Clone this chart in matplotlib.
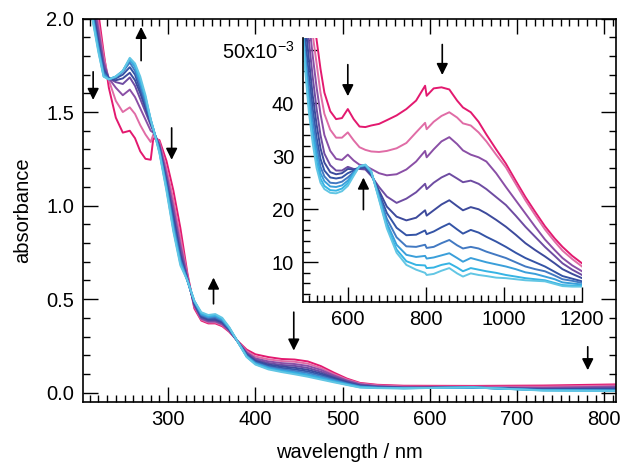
import numpy as np
import matplotlib.pyplot as plt
from matplotlib.ticker import MultipleLocator

plt.rcParams['font.family'] = ['Liberation Sans', 'DejaVu Sans']
plt.rcParams['mathtext.default'] = 'regular'

# colours of the 10 spectra, first (pink) to last (cyan)
colors = ['#e3196f', '#e06ca6', '#8a4fa6', '#6e4ca2', '#3d4a9c',
          '#3454a6', '#4279c2', '#3a9fda', '#36b4e4', '#62c6e4']

# main panel: wavelength (nm) and absorbance rows (one value per spectrum)
wl_main = [205, 213, 220, 226, 232, 240, 248, 256, 262, 268, 274, 280, 283,
           290, 298, 306, 314, 322, 330, 338, 346, 354, 362, 370, 380, 390,
           400, 415, 430, 445, 460, 475, 490, 505, 520, 540, 570, 650, 730, 813]
abs_rows = [
    [2.60, 2.50, 2.45, 2.42, 2.40, 2.38, 2.37, 2.36, 2.35, 2.34],
    [2.25, 2.19, 2.14, 2.10, 2.07, 2.05, 2.03, 2.02, 2.01, 2.00],
    [2.03, 1.98, 1.94, 1.91, 1.88, 1.86, 1.85, 1.84, 1.83, 1.82],
    [1.82, 1.80, 1.77, 1.75, 1.73, 1.72, 1.71, 1.70, 1.69, 1.69],
    [1.63, 1.67, 1.68, 1.68, 1.68, 1.68, 1.675, 1.675, 1.675, 1.675],
    [1.47, 1.56, 1.63, 1.66, 1.67, 1.68, 1.685, 1.69, 1.69, 1.69],
    [1.39, 1.50, 1.59, 1.65, 1.68, 1.70, 1.715, 1.72, 1.72, 1.72],
    [1.40, 1.525, 1.62, 1.685, 1.71, 1.74, 1.765, 1.78, 1.785, 1.79],
    [1.36, 1.49, 1.58, 1.64, 1.67, 1.70, 1.72, 1.74, 1.75, 1.76],
    [1.29, 1.43, 1.52, 1.57, 1.60, 1.62, 1.64, 1.66, 1.67, 1.69],
    [1.25, 1.38, 1.46, 1.50, 1.52, 1.54, 1.55, 1.57, 1.58, 1.59],
    [1.245, 1.34, 1.40, 1.43, 1.44, 1.45, 1.45, 1.46, 1.46, 1.46],
    [1.36, 1.38, 1.39, 1.40, 1.40, 1.405, 1.41, 1.41, 1.41, 1.41],
    [1.35, 1.34, 1.33, 1.32, 1.31, 1.30, 1.30, 1.29, 1.285, 1.28],
    [1.24, 1.20, 1.17, 1.15, 1.13, 1.12, 1.11, 1.10, 1.09, 1.08],
    [1.08, 1.03, 0.99, 0.96, 0.94, 0.92, 0.90, 0.88, 0.87, 0.86],
    [0.88, 0.83, 0.79, 0.76, 0.74, 0.72, 0.71, 0.70, 0.69, 0.68],
    [0.64, 0.63, 0.62, 0.61, 0.605, 0.60, 0.60, 0.60, 0.60, 0.60],
    [0.45, 0.46, 0.465, 0.47, 0.475, 0.48, 0.485, 0.49, 0.49, 0.49],
    [0.385, 0.39, 0.395, 0.40, 0.405, 0.41, 0.415, 0.42, 0.425, 0.43],
    [0.37, 0.375, 0.38, 0.385, 0.39, 0.395, 0.40, 0.405, 0.41, 0.415],
    [0.37, 0.375, 0.38, 0.385, 0.39, 0.397, 0.403, 0.41, 0.415, 0.42],
    [0.355, 0.36, 0.365, 0.37, 0.375, 0.38, 0.385, 0.39, 0.395, 0.40],
    [0.325, 0.328, 0.331, 0.334, 0.337, 0.34, 0.343, 0.346, 0.348, 0.35],
    [0.275, 0.274, 0.273, 0.272, 0.271, 0.27, 0.27, 0.27, 0.27, 0.27],
    [0.23, 0.222, 0.215, 0.21, 0.205, 0.20, 0.197, 0.194, 0.192, 0.19],
    [0.205, 0.193, 0.183, 0.176, 0.17, 0.165, 0.16, 0.157, 0.153, 0.15],
    [0.19, 0.178, 0.167, 0.158, 0.15, 0.143, 0.137, 0.133, 0.128, 0.124],
    [0.18, 0.169, 0.158, 0.148, 0.14, 0.132, 0.125, 0.119, 0.114, 0.11],
    [0.177, 0.165, 0.153, 0.143, 0.133, 0.124, 0.116, 0.109, 0.103, 0.098],
    [0.167, 0.155, 0.143, 0.132, 0.122, 0.113, 0.105, 0.097, 0.091, 0.085],
    [0.142, 0.132, 0.122, 0.112, 0.103, 0.095, 0.088, 0.081, 0.075, 0.07],
    [0.107, 0.099, 0.092, 0.085, 0.079, 0.073, 0.068, 0.063, 0.059, 0.055],
    [0.075, 0.070, 0.065, 0.060, 0.056, 0.052, 0.049, 0.046, 0.043, 0.041],
    [0.052, 0.049, 0.045, 0.041, 0.038, 0.035, 0.033, 0.031, 0.029, 0.027],
    [0.042, 0.039, 0.035, 0.032, 0.030, 0.028, 0.027, 0.026, 0.025, 0.024],
    [0.037, 0.033, 0.029, 0.027, 0.026, 0.025, 0.024, 0.024, 0.023, 0.023],
    [0.036, 0.032, 0.028, 0.027, 0.027, 0.027, 0.027, 0.027, 0.028, 0.028],
    [0.038, 0.032, 0.026, 0.021, 0.018, 0.015, 0.014, 0.013, 0.012, 0.011],
    [0.044, 0.038, 0.032, 0.026, 0.021, 0.017, 0.013, 0.011, 0.010, 0.009],
]

# inset: wavelength (nm) and absorbance in units of 1e-3, one list per spectrum
wl_ins = [480, 490, 500, 510, 520, 530, 540, 555, 570, 585, 600, 615, 630, 645,
          660, 680, 700, 725, 750, 775, 798, 802, 820, 840, 860, 880, 895, 915,
          935, 955, 980, 1005, 1030, 1055, 1080, 1105, 1130, 1150, 1175, 1200]
ins_spectra = [
    [80, 72, 64, 57, 52, 46.5, 42, 38.5, 37, 37.2, 38.9, 37.0, 35.6, 35.5, 35.8, 36.1, 36.8, 37.7, 38.9, 40.5,
     43.3, 41.4, 42.8, 43.0, 42.6, 40.5, 39.2, 38.3, 36.5, 34.1, 31.3, 28.6, 25.4, 22.3, 19.5, 16.8, 14.5, 12.9, 11.2, 9.8],
    [76, 68, 60, 53, 47.5, 42, 38, 35, 33.5, 33.5, 34.5, 33.0, 31.7, 31.2, 30.9, 30.8, 31.0, 31.5, 32.5, 34.5,
     36.3, 35.1, 36.5, 37.6, 38.3, 37.3, 36.2, 35.8, 34.5, 32.8, 30.3, 27.9, 24.8, 21.7, 18.9, 16.2, 13.9, 12.2, 10.6, 9.2],
    [72, 64, 56, 49, 43, 38, 34, 31, 29.5, 29.3, 30.3, 29.2, 28.4, 28.2, 27.6, 26.8, 26.4, 26.6, 27.5, 29.0,
     31.0, 29.8, 31.3, 32.8, 33.6, 32.3, 31.1, 30.3, 29.8, 29.0, 26.8, 24.2, 21.7, 19.2, 16.7, 14.3, 12.3, 10.8, 9.4, 8.3],
    [68, 60, 52, 45, 39, 34, 30.5, 28.3, 27.3, 27.3, 28.0, 27.6, 27.6, 27.5, 26.3, 24.2, 22.4, 21.2, 22.0, 23.2,
     24.8, 23.8, 25.0, 26.0, 26.7, 25.8, 25.1, 25.4, 24.8, 23.8, 22.3, 20.8, 18.8, 16.7, 14.8, 12.9, 11.2, 9.8, 8.6, 7.6],
    [64, 56, 48.5, 41.5, 36, 31.5, 28.8, 27.0, 26.6, 26.8, 27.6, 27.5, 27.8, 27.8, 26.5, 23.5, 20.5, 18.6, 17.9, 18.4,
     19.8, 18.8, 19.8, 20.9, 21.7, 20.6, 19.8, 20.4, 20.0, 19.2, 18.0, 16.7, 15.2, 13.6, 12.3, 11.1, 9.8, 8.7, 7.8, 7.0],
    [61, 53, 45.5, 39, 33.5, 29.5, 27.3, 26.0, 25.8, 26.0, 26.8, 27.3, 27.9, 28.0, 26.8, 23.0, 19.3, 16.5, 15.1, 15.2,
     16.0, 15.3, 15.8, 16.6, 17.3, 16.2, 15.4, 16.1, 15.6, 14.8, 13.9, 12.9, 11.8, 10.8, 10.0, 9.2, 8.2, 7.4, 6.9, 6.4],
    [59, 50, 43, 37, 32, 28, 26.2, 25.0, 24.9, 25.2, 26.0, 27.0, 28.0, 28.2, 26.9, 22.6, 18.2, 14.7, 13.0, 12.9,
     13.3, 12.7, 12.9, 13.6, 14.2, 13.2, 12.6, 12.9, 12.6, 12.0, 11.4, 10.8, 10.0, 9.2, 8.7, 8.3, 7.5, 6.8, 6.5, 6.1],
    [58, 49, 41, 35, 30.5, 26.8, 25.3, 24.3, 24.2, 24.5, 25.4, 26.8, 28.1, 28.3, 27.0, 22.3, 17.4, 13.3, 11.4, 11.0,
     11.2, 10.7, 10.9, 11.3, 11.7, 10.8, 10.1, 10.8, 10.4, 10.0, 9.6, 9.2, 8.7, 8.1, 7.8, 7.3, 6.8, 6.2, 6.0, 5.8],
    [57.5, 48, 39.5, 33.5, 29, 25.8, 24.4, 23.6, 23.5, 23.9, 24.9, 26.6, 28.1, 28.4, 27.1, 22.0, 16.8, 12.4, 10.2, 9.5,
     9.4, 8.9, 9.0, 9.5, 9.8, 9.0, 8.3, 8.9, 8.6, 8.3, 8.0, 7.6, 7.3, 7.0, 6.8, 6.6, 6.1, 5.7, 5.6, 5.6],
    [57, 47, 38.5, 32.5, 27.8, 25.0, 23.8, 23.1, 23.0, 23.4, 24.4, 26.3, 28.1, 28.4, 27.2, 21.8, 16.4, 11.8, 9.5, 8.6,
     8.0, 7.6, 7.8, 8.4, 8.9, 7.9, 7.3, 7.9, 7.6, 7.4, 7.1, 7.0, 6.8, 6.6, 6.5, 6.4, 5.9, 5.5, 5.4, 5.4],
]

# arrows: (wavelength, tail, head)
arrows_main = [(214, 1.73, 1.55), (269, 1.76, 1.97), (304, 1.43, 1.23),
               (352, 0.46, 0.63), (444, 0.445, 0.21), (781, 0.26, 0.105)]
arrows_ins = [(600, 47.8, 40.8), (842, 51.6, 44.8), (640, 19.4, 26.5)]

fig = plt.figure(figsize=(6.23, 4.62), dpi=100)
ax = fig.add_axes([0.1327, 0.1299, 0.8555, 0.8300])

spectra_main = np.array(abs_rows).T
for k in range(len(colors)):
    ax.plot(wl_main, spectra_main[k], color=colors[k], lw=1.4)

ax.set_xlim(202, 813)
ax.set_ylim(-0.05, 2.0)
ax.xaxis.set_major_locator(MultipleLocator(100))
ax.xaxis.set_minor_locator(MultipleLocator(10))
ax.yaxis.set_major_locator(MultipleLocator(0.5))
ax.yaxis.set_minor_locator(MultipleLocator(0.1))
ax.yaxis.set_major_formatter(plt.FormatStrFormatter('%.1f'))
ax.tick_params(which='both', direction='in', top=True, right=True, width=1.0, labelsize=14.5, pad=6)
ax.tick_params(which='major', length=11)
ax.tick_params(which='minor', length=5)
for s in ax.spines.values():
    s.set_linewidth(1.2)
ax.set_xlabel('wavelength / nm', fontsize=14.5, labelpad=10)
ax.set_ylabel('absorbance', fontsize=14.5, labelpad=10)

for x, y0, y1 in arrows_main:
    ax.annotate('', xy=(x, y1), xytext=(x, y0),
                arrowprops=dict(arrowstyle='-|>', color='black', lw=1.2, mutation_scale=17))

# inset
ins = fig.add_axes([0.4856, 0.3463, 0.4486, 0.5714])
ins.set_facecolor('white')
spec_ins = np.array(ins_spectra)
for k in range(len(colors)):
    ins.plot(wl_ins, spec_ins[k], color=colors[k], lw=1.4)
ins.set_xlim(484, 1200)
ins.set_ylim(2.5, 52.3)
ins.spines['top'].set_visible(False)
ins.spines['right'].set_visible(False)
for s in ['left', 'bottom']:
    ins.spines[s].set_linewidth(1.2)
ins.set_xticks([600, 800, 1000, 1200])
ins.xaxis.set_minor_locator(MultipleLocator(20))
ins.set_yticks([10, 20, 30, 40, 50])
ins.set_yticklabels(['10', '20', '30', '40', r'50x10$^{-3}$'])
ins.yaxis.set_minor_locator(MultipleLocator(2))
ins.tick_params(which='both', direction='in', width=1.0, labelsize=14.5, pad=6)
ins.tick_params(which='major', length=11)
ins.tick_params(which='minor', length=5)

for x, y0, y1 in arrows_ins:
    ins.annotate('', xy=(x, y1), xytext=(x, y0),
                 arrowprops=dict(arrowstyle='-|>', color='black', lw=1.2, mutation_scale=17))

fig.savefig('out.png', dpi=100)
